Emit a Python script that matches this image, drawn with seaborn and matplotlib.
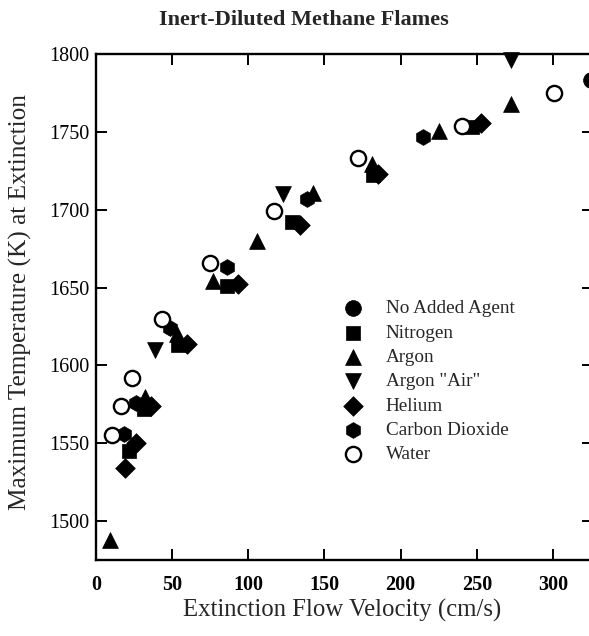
"""
Inert-diluted methane flames: peak temperature vs extinction flow velocity
"""
import matplotlib
matplotlib.use("Agg")
import matplotlib.pyplot as plt
import seaborn as sns
import pandas as pd

# values (velocity cm/s, temperature K)
no_agent_v = [325]
no_agent_t = [1783]

nitrogen_v = [21.7, 31.5, 54, 86, 128.5, 182, 247]
nitrogen_t = [1545, 1572, 1613, 1651, 1692, 1722, 1753]

argon_v = [9, 32, 53, 77, 106, 142.5, 181, 225, 272.5]
argon_t = [1488, 1580, 1620, 1654.5, 1680, 1711, 1729.5, 1750.6, 1768]

argon_air_v = [39, 123, 272.5]
argon_air_t = [1610, 1710, 1796]

helium_v = [19, 26, 36, 59.5, 93, 134, 185, 253]
helium_t = [1534, 1550, 1574, 1614, 1652.5, 1690, 1723, 1756]

co2_v = [18.4, 26, 48.5, 86, 138.5, 215]
co2_t = [1556, 1576, 1624, 1663, 1707, 1747]

water_v = [10.5, 16.4, 23.6, 43.5, 75, 117, 172, 240, 301]
water_t = [1555, 1574, 1592, 1630, 1666, 1699, 1733, 1754, 1775]

series_names = ["No Added Agent", "Nitrogen", "Argon", 'Argon "Air"',
                "Helium", "Carbon Dioxide", "Water"]
series_v = [no_agent_v, nitrogen_v, argon_v, argon_air_v, helium_v, co2_v, water_v]
series_t = [no_agent_t, nitrogen_t, argon_t, argon_air_t, helium_t, co2_t, water_t]
series_markers = ["o", "s", "^", "v", "D", "h", "o"]
series_sizes = [130, 110, 130, 130, 100, 130, 120]

x_ticks = [0, 50, 100, 150, 200, 250, 300]
y_ticks = [1500, 1550, 1600, 1650, 1700, 1750, 1800]

sns.set_theme(style="ticks")
plt.rcParams["font.family"] = ["Liberation Serif", "DejaVu Serif"]

frames = []
for name, v, t in zip(series_names, series_v, series_t):
    frames.append(pd.DataFrame({"velocity": v, "temperature": t, "agent": name}))
df = pd.concat(frames, ignore_index=True)

fig = plt.figure(figsize=(5.89, 6.36), dpi=100)
ax = fig.add_axes([0.163, 0.1195, 0.843, 0.7956])

for name, marker, size in zip(series_names, series_markers, series_sizes):
    sub = df[df["agent"] == name]
    if name == "Water":
        sns.scatterplot(data=sub, x="velocity", y="temperature", ax=ax,
                        marker=marker, s=size, color="white", edgecolor="black",
                        linewidth=1.7, label=name, clip_on=False, zorder=3)
    else:
        sns.scatterplot(data=sub, x="velocity", y="temperature", ax=ax,
                        marker=marker, s=size, color="black", edgecolor="black",
                        linewidth=0.5, label=name, clip_on=False, zorder=3)

ax.set_xlim(0, 326)
ax.set_ylim(1475, 1800)
ax.set_xticks(x_ticks)
ax.set_yticks(y_ticks)
ax.set_xticklabels([str(v) for v in x_ticks], fontweight="bold")
ax.tick_params(direction="in", length=8, width=1.4, labelsize=14.5,
               top=True, right=True, colors="black")
ax.tick_params(axis="x", pad=11)
ax.tick_params(axis="y", pad=5)

for side in ["left", "bottom", "top", "right"]:
    ax.spines[side].set_linewidth(1.7)
    ax.spines[side].set_color("black")

ax.set_xlabel("Extinction Flow Velocity (cm/s)", fontsize=17.8)
ax.xaxis.set_label_coords(0.496, -0.077)
ax.set_ylabel("Maximum Temperature (K) at Extinction", fontsize=18.2)
ax.yaxis.set_label_coords(-0.128, 0.51)
fig.text(0.516, 0.968, "Inert-Diluted Methane Flames", ha="center", va="center",
         fontsize=16, fontweight="bold")

leg = ax.legend(loc="upper left", bbox_to_anchor=(0.483, 0.529), frameon=False,
                fontsize=13.8, handlelength=1.0, handletextpad=1.2,
                labelspacing=0.36, borderaxespad=0)

fig.savefig("out.png", dpi=100)
